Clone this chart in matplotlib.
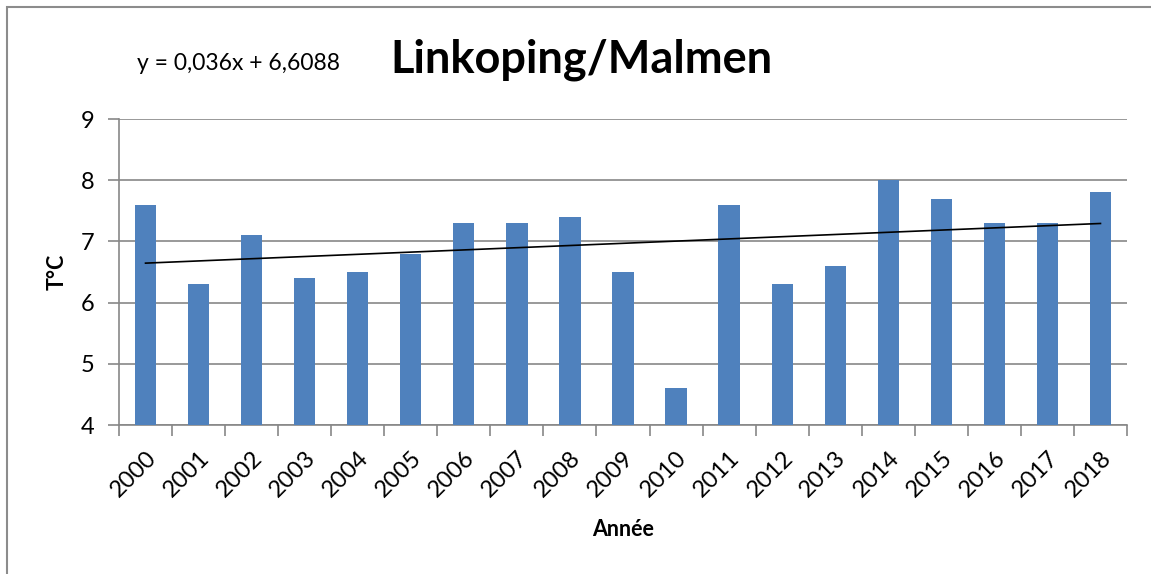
import matplotlib
matplotlib.use("Agg")
import matplotlib.pyplot as plt
from matplotlib.patches import Rectangle

years = [str(y) for y in range(2000, 2019)]
temps = [7.6, 6.3, 7.1, 6.4, 6.5, 6.8, 7.3, 7.3, 7.4, 6.5, 4.6, 7.6, 6.3, 6.6, 8.0, 7.7, 7.3, 7.3, 7.8]
slope = 0.036
intercept = 6.6088
title = "Linkoping/Malmen"
equation = "y = 0,036x + 6,6088"

plt.rcParams['font.family'] = ['Lato', 'DejaVu Sans']

W, H = 1151, 574
fig = plt.figure(figsize=(W/100, H/100), dpi=100)
fig.patches.append(Rectangle((6.5/W, -0.1), 1.2, (H-7)/H + 0.1, transform=fig.transFigure,
                             fill=False, edgecolor='#8c8c8c', linewidth=1.5))

ax = fig.add_axes([119/W, 1-425/H, (1127-119)/W, (425-119)/H])
n = len(years)
xs = list(range(n))
ax.bar(xs, temps, width=0.4, color='#4f81bd', zorder=3)
tx = [xs[0], xs[-1]]
ty = [slope*(i+1) + intercept for i in tx]
ax.plot(tx, ty, color='black', linewidth=1.2, zorder=4)

ax.set_xlim(-0.5, n-0.5)
ax.set_ylim(4, 9)
ax.set_yticks(range(4, 10))
ax.yaxis.grid(True, color='#878787', linewidth=1.2, zorder=0)
ax.set_axisbelow(True)
for s in ['top', 'right']:
    ax.spines[s].set_visible(False)
for s in ['left', 'bottom']:
    ax.spines[s].set_color('#878787')
    ax.spines[s].set_linewidth(1.2)

ax.set_xticks([i-0.5 for i in range(n+1)])
ax.set_xticklabels([])
ax.set_xticks(xs, minor=True)
ax.set_xticklabels(years, minor=True, rotation=45, ha='right', va='top',
                   rotation_mode='anchor', fontsize=17)
ax.tick_params(axis='x', which='major', length=8, width=1.2, color='#878787')
ax.tick_params(axis='x', which='minor', length=0, pad=16)
ax.tick_params(axis='y', length=8, width=1.2, color='#878787', labelsize=17, pad=10)

ax.set_ylabel("T°C", fontsize=15.5, fontweight='bold', va='center')
ax.yaxis.set_label_coords((57-119)/1008, 0.5)
ax.set_xlabel("Année", fontsize=15.5, fontweight='bold', va='center')
ax.xaxis.set_label_coords(0.5, -(530-425)/306)

fig.text(581/W, 1-60/H, title, fontsize=32.5, fontweight='bold', ha='center', va='center')
fig.text(137/W, 1-63/H, equation, fontsize=16.5, ha='left', va='center')

fig.savefig("out.png", dpi=100)
